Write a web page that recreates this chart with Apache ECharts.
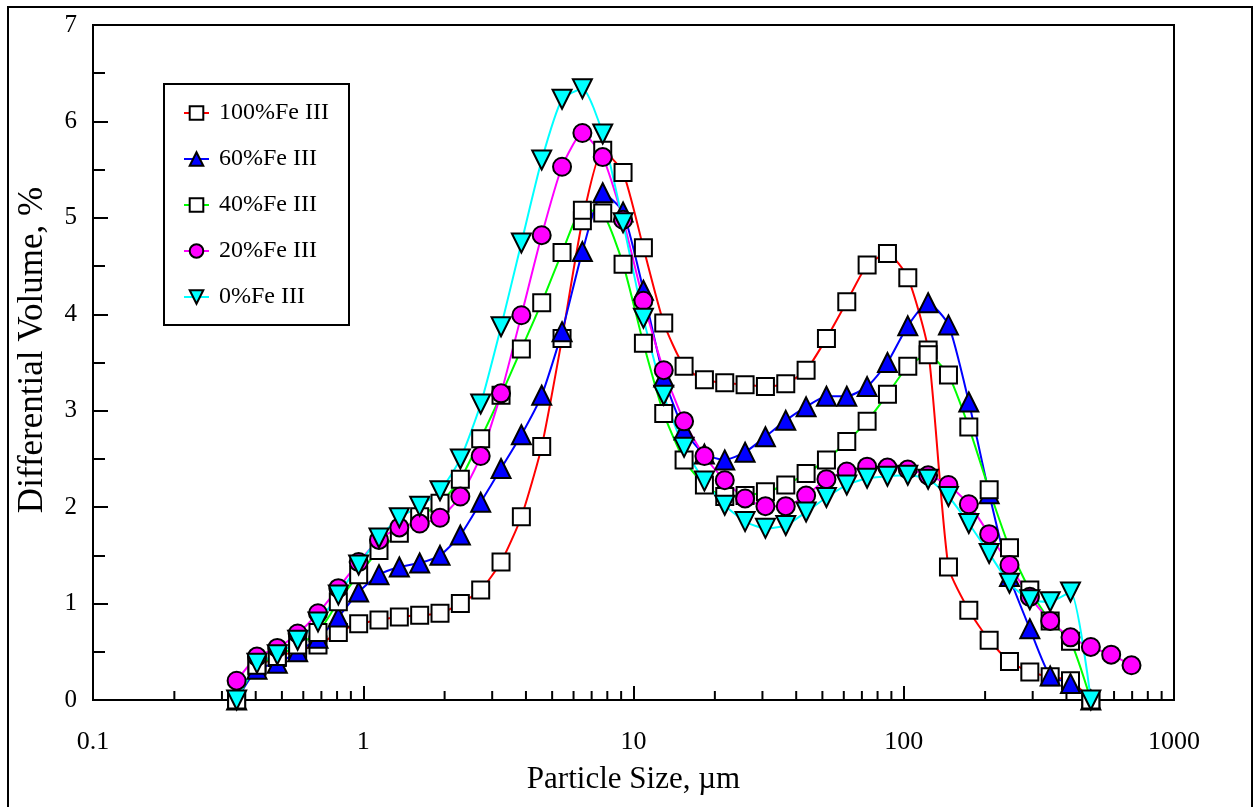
<!DOCTYPE html>
<html>
<head>
<meta charset="utf-8">
<script src="https://cdn.jsdelivr.net/npm/echarts@6/dist/echarts.min.js"></script>
<style>
html,body{margin:0;padding:0;background:#fff;}
#chart{width:1254px;height:807px;}
</style>
</head>
<body>
<div id="chart"></div>
<script>
// Particle sizes (µm) of the measurement channels
const sizes = [0.34, 0.4043, 0.4808, 0.5718, 0.68, 0.8087, 0.9617, 1.1436, 1.36, 1.6173,
  1.9233, 2.2872, 2.72, 3.2347, 3.8467, 4.5745, 5.44, 6.4693, 7.6933, 9.149,
  10.88, 12.939, 15.387, 18.298, 21.76, 25.877, 30.773, 36.596, 43.52, 51.754,
  61.547, 73.192, 87.04, 103.51, 123.09, 146.38, 174.08, 207.02, 246.19, 292.77,
  348.16, 414.03, 492.37, 585.53, 696.32];

const fe100 = [0, 0.35, 0.44, 0.52, 0.57, 0.70, 0.79, 0.83, 0.86, 0.88,
  0.90, 1.00, 1.14, 1.43, 1.90, 2.63, 3.75, 4.97, 5.70, 5.47,
  4.69, 3.91, 3.46, 3.32, 3.29, 3.27, 3.25, 3.28, 3.42, 3.75,
  4.13, 4.51, 4.63, 4.38, 3.63, 1.38, 0.93, 0.62, 0.40, 0.29,
  0.24, 0.20, 0];

const fe60 = [0, 0.32, 0.38, 0.50, 0.64, 0.86, 1.12, 1.30, 1.38, 1.42,
  1.50, 1.71, 2.05, 2.40, 2.75, 3.16, 3.82, 4.65, 5.26, 5.06,
  4.25, 3.35, 2.80, 2.55, 2.49, 2.57, 2.73, 2.90, 3.04, 3.15,
  3.15, 3.25, 3.50, 3.88, 4.12, 3.89, 3.09, 2.14, 1.28, 0.74,
  0.25, 0.17, 0];

const fe40 = [0, 0.36, 0.45, 0.57, 0.70, 1.02, 1.30, 1.55, 1.73, 1.90,
  2.04, 2.29, 2.71, 3.16, 3.64, 4.12, 4.64, 5.08, 5.05, 4.52,
  3.70, 2.97, 2.49, 2.23, 2.11, 2.12, 2.16, 2.23, 2.35, 2.49,
  2.68, 2.89, 3.17, 3.46, 3.58, 3.37, 2.83, 2.18, 1.58, 1.14,
  0.82, 0.61, 0];

const fe20 = [0.20, 0.45, 0.54, 0.69, 0.90, 1.16, 1.43, 1.66, 1.79, 1.83,
  1.89, 2.11, 2.53, 3.18, 3.99, 4.82, 5.53, 5.88, 5.63, 4.98,
  4.14, 3.42, 2.89, 2.53, 2.28, 2.09, 2.01, 2.01, 2.12, 2.29,
  2.37, 2.42, 2.41, 2.39, 2.33, 2.23, 2.03, 1.72, 1.40, 1.07,
  0.82, 0.65, 0.55, 0.47, 0.36];

const fe0 = [0, 0.38, 0.47, 0.62, 0.81, 1.09, 1.40, 1.68, 1.89, 2.01,
  2.17, 2.50, 3.07, 3.87, 4.74, 5.60, 6.23, 6.34, 5.87, 4.95,
  3.96, 3.16, 2.62, 2.27, 2.02, 1.85, 1.78, 1.81, 1.95, 2.10,
  2.23, 2.30, 2.32, 2.33, 2.29, 2.11, 1.83, 1.52, 1.21, 1.04,
  1.02, 1.12, 0];

const seriesNames = ['100%Fe III', '60%Fe III', '40%Fe III', '20%Fe III', '0%Fe III'];
const minorTickValues = [0.2,0.3,0.4,0.5,0.6,0.7,0.8,0.9, 2,3,4,5,6,7,8,9,
  20,30,40,50,60,70,80,90, 200,300,400,500,600,700,800,900];

const FONT = '"Liberation Serif", "Times New Roman", serif';

function pairs(vals){ return vals.map((v,i)=>[sizes[i], v]); }

function mk(name, vals, color, symbol, rotate){
  return {
    name: name, type: 'line', data: pairs(vals),
    smooth: 0.2,
    symbol: symbol, symbolSize: symbol === 'rect' ? 17 : (symbol === 'circle' ? 18 : 19),
    symbolRotate: rotate || 0,
    showAllSymbol: true,
    lineStyle: {color: color, width: 2},
    itemStyle: {color: symbol === 'rect' ? '#ffffff' : color, borderColor: '#000', borderWidth: 2},
    emphasis: {disabled: true},
    z: 3
  };
}

const chart = echarts.init(document.getElementById('chart'), null, {renderer: 'canvas'});
const option = {
  animation: false,
  backgroundColor: '#fff',
  grid: {left: 93, top: 25, right: 80, bottom: 107, show: true, borderColor: '#000', borderWidth: 2, backgroundColor: 'transparent'},
  xAxis: {
    type: 'log', logBase: 10, min: 0.1, max: 1000,
    name: 'Particle Size, µm', nameLocation: 'middle', nameGap: 64,
    nameTextStyle: {fontFamily: FONT, fontSize: 31, color: '#000'},
    axisLine: {show: true, onZero: false, lineStyle: {color: '#000', width: 2}},
    axisTick: {show: true, inside: true, length: 14, lineStyle: {color: '#000', width: 2}},
    minorTick: {show: false},
    splitLine: {show: false},
    minorSplitLine: {show: false},
    axisLabel: {margin: 29, fontFamily: FONT, fontSize: 26, color: '#000',
      formatter: v => String(Number(Number(v).toPrecision(6)))}
  },
  yAxis: {
    type: 'value', min: 0, max: 7, interval: 1,
    name: '', 
    axisLine: {show: true, lineStyle: {color: '#000', width: 2}},
    axisTick: {show: true, inside: true, length: 15, lineStyle: {color: '#000', width: 2}},
    minorTick: {show: true, splitNumber: 2, length: 12, lineStyle: {color: '#000', width: 2}},
    splitLine: {show: false},
    axisLabel: {margin: 16, fontFamily: FONT, fontSize: 25, color: '#000'}
  },
  legend: {
    data: seriesNames,
    orient: 'vertical', left: 183, top: 101,
    itemWidth: 25, itemHeight: 17, itemGap: 22,
    padding: 0,
    textStyle: {fontFamily: FONT, fontSize: 24, color: '#000', lineHeight: 24, padding: [0, 0, 0, 5]},
    selectedMode: false
  },
  graphic: [
    {type: 'rect', left: 163, top: 83, shape: {width: 185, height: 241},
     style: {fill: '#fff', stroke: '#000', lineWidth: 2}, z: 0, zlevel: 0},
    {type: 'rect', shape: {x: 8, y: 7, width: 1244, height: 900},
     style: {fill: 'none', stroke: '#000', lineWidth: 2}, z: 0, silent: true},
    {type: 'text', x: 33, y: 350, rotation: Math.PI / 2,
     style: {text: 'Differential Volume, %', font: '35px ' + FONT, fill: '#000',
       textAlign: 'center', textVerticalAlign: 'middle'}, z: 5}
  ],
  series: [
    {
      type: 'custom', name: 'minorTicks', silent: true, z: 1,
      data: minorTickValues.map(v => [v, 0]),
      renderItem: (params, api) => {
        const p = api.coord([api.value(0), 0]);
        return {type: 'line', shape: {x1: p[0], y1: p[1], x2: p[0], y2: p[1] - 9},
          style: {stroke: '#000', lineWidth: 2}};
      }
    },
    mk(seriesNames[0], fe100, '#ff0000', 'rect'),
    mk(seriesNames[1], fe60, '#0000ff', 'triangle'),
    mk(seriesNames[2], fe40, '#00ff00', 'rect'),
    mk(seriesNames[3], fe20, '#ff00ff', 'circle'),
    mk(seriesNames[4], fe0, '#00ffff', 'triangle', 180)
  ]
};
chart.setOption(option);
</script>
</body>
</html>
